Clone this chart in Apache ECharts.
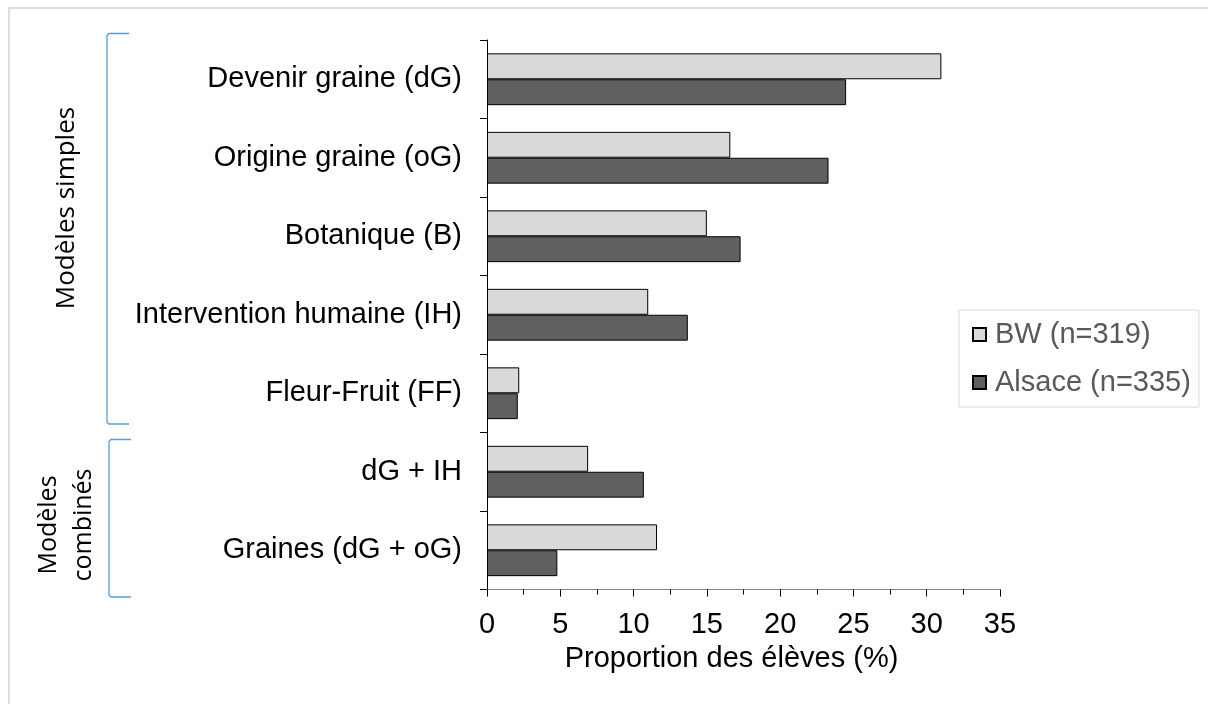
<!DOCTYPE html>
<html>
<head>
<meta charset="utf-8">
<script src="https://cdn.jsdelivr.net/npm/echarts@6/dist/echarts.min.js"></script>
<style>
html,body{margin:0;padding:0;background:#fff;}
#chart{width:1208px;height:704px;}
</style>
</head>
<body>
<div id="chart"></div>
<script>
var categories = ["Devenir graine (dG)", "Origine graine (oG)", "Botanique (B)", "Intervention humaine (IH)", "Fleur-Fruit (FF)", "dG + IH", "Graines (dG + oG)"];
var seriesNames = ["BW (n=319)", "Alsace (n=335)"];
var bwValues = [31.0, 16.6, 15.0, 11.0, 2.2, 6.9, 11.6];
var alsaceValues = [24.5, 23.3, 17.3, 13.7, 2.1, 10.7, 4.8];
var groupLabels = ["Modèles simples", "Modèles\ncombinés"];
var xAxisName = "Proportion des élèves (%)";

var chart = echarts.init(document.getElementById('chart'));
var FONT = "'Liberation Sans', Arial, sans-serif";
var option = {
  backgroundColor: '#ffffff',
  animation: false,
  textStyle: { fontFamily: FONT },
  grid: { left: 487, top: 40, width: 513, height: 549.5, containLabel: false },
  legend: {
    orient: 'vertical',
    left: 959, top: 310,
    padding: [10, 8, 10, 13],
    itemGap: 19,
    itemWidth: 13, itemHeight: 13,
    icon: 'rect',
    borderColor: '#d9d9d9', borderWidth: 1,
    textStyle: { color: '#595959', fontSize: 29, fontFamily: FONT, padding: [0, 0, 0, 4] },
    data: seriesNames
  },
  xAxis: {
    type: 'value', min: 0, max: 35, interval: 5,
    name: xAxisName, nameLocation: 'middle', nameGap: 50,
    nameTextStyle: { color: '#000', fontSize: 29, fontFamily: FONT, padding: [0, 24, 0, 0] },
    axisLine: { show: true, lineStyle: { color: '#868686', width: 1 } },
    axisTick: { show: true, inside: false, length: 7, lineStyle: { color: '#000', width: 1 } },
    minorTick: { show: true, splitNumber: 2, length: 5, lineStyle: { color: '#000', width: 1 } },
    axisLabel: { color: '#000', fontSize: 29, fontFamily: FONT, margin: 21 },
    splitLine: { show: false }
  },
  yAxis: {
    type: 'category', inverse: true, data: categories,
    axisLine: { show: true, lineStyle: { color: '#000', width: 1 } },
    axisTick: { show: true, inside: false, length: 7, lineStyle: { color: '#000', width: 1 } },
    axisLabel: { color: '#000', fontSize: 29, fontFamily: FONT, margin: 25 },
    splitLine: { show: false }
  },
  series: [
    {
      name: seriesNames[0], type: 'bar', data: bwValues,
      barGap: '0%', barCategoryGap: '34%',
      itemStyle: { color: '#d9d9d9', borderColor: '#000', borderWidth: 1 }
    },
    {
      name: seriesNames[1], type: 'bar', data: alsaceValues,
      barGap: '0%', barCategoryGap: '34%',
      itemStyle: { color: '#606060', borderColor: '#000', borderWidth: 1 }
    }
  ],
  graphic: [
    { type: 'polyline', silent: true, shape: { points: [[1400, 8], [9, 8], [9, 800]] },
      style: { stroke: '#d4d4d4', lineWidth: 1.5, fill: null } },
    { type: 'polyline', silent: true,
      shape: { points: [[129, 33.5], [109, 33.5], [107, 35.5], [107, 422], [109, 424], [129, 424]] },
      style: { stroke: '#5b9bd5', lineWidth: 1.3, fill: null } },
    { type: 'polyline', silent: true,
      shape: { points: [[131, 439.5], [111, 439.5], [109, 441.5], [109, 595], [111, 597], [131, 597]] },
      style: { stroke: '#5b9bd5', lineWidth: 1.3, fill: null } },
    { type: 'text', silent: true, x: 67, y: 208, rotation: Math.PI / 2,
      style: { text: groupLabels[0], x: 0, y: 0, align: 'center', verticalAlign: 'middle',
        fill: '#000', fontSize: 26, fontFamily: "'Open Sans', sans-serif" } },
    { type: 'text', silent: true, x: 66, y: 525, rotation: Math.PI / 2,
      style: { text: groupLabels[1], x: 0, y: 0, align: 'center', verticalAlign: 'middle',
        fill: '#000', fontSize: 25, lineHeight: 35, fontFamily: "'Open Sans', sans-serif" } }
  ]
};
chart.setOption(option);
</script>
</body>
</html>
